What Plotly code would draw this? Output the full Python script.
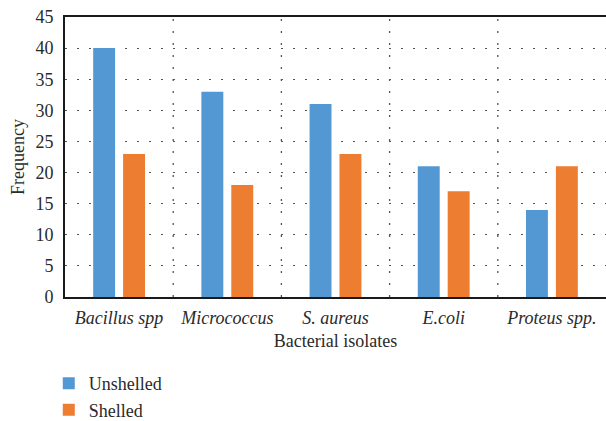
import plotly.graph_objects as go

categories = ["Bacillus spp", "Micrococcus", "S. aureus", "E.coli", "Proteus spp."]
unshelled = [40, 33, 31, 21, 14]
shelled = [23, 18, 23, 17, 21]
y_ticks = [0, 5, 10, 15, 20, 25, 30, 35, 40, 45]

FONT = "Liberation Serif"
DOTS = "2px,10px"

fig = go.Figure()
fig.add_trace(go.Bar(name="Unshelled", x=categories, y=unshelled,
                     marker=dict(color="#5498D3", line=dict(width=0))))
fig.add_trace(go.Bar(name="Shelled", x=categories, y=shelled,
                     marker=dict(color="#ED7D31", line=dict(width=0))))

# dotted separators between the category groups
for i in range(len(categories) - 1):
    fig.add_shape(type="line", xref="x", yref="paper",
                  x0=i + 0.5, x1=i + 0.5, y0=0, y1=1, layer="below",
                  line=dict(color="#555555", width=1.3, dash=DOTS))

fig.update_layout(
    width=606, height=421,
    margin=dict(l=65, r=0, t=17, b=124, autoexpand=False),
    paper_bgcolor="white", plot_bgcolor="white",
    barmode="group", bargap=0.447, bargroupgap=0.267,
    font=dict(family=FONT, size=18, color="#2a2a2a"),
    xaxis=dict(
        type="category", automargin=False, tickangle=0,
        tickvals=categories,
        ticktext=[f"<i>{c}</i>" for c in categories],
        showline=True, linecolor="#1a1a1a", linewidth=2, mirror=True,
        showgrid=False, ticks="", ticklen=0, ticklabelstandoff=3,
        title=dict(text="Bacterial isolates", standoff=8,
                   font=dict(family=FONT, size=18)),
        tickfont=dict(family=FONT, size=18),
        range=[-0.5, len(categories) - 0.5],
    ),
    yaxis=dict(
        range=[0, 45], tickvals=y_ticks, automargin=False,
        showline=True, linecolor="#1a1a1a", linewidth=2,
        showgrid=True, gridcolor="#555555", gridwidth=1.3, griddash=DOTS,
        zeroline=False, ticks="", ticklabelstandoff=6,
        title=dict(text="Frequency", standoff=6,
                   font=dict(family=FONT, size=18)),
        tickfont=dict(family=FONT, size=18),
    ),
    legend=dict(
        orientation="v", x=-0.03, xanchor="left", y=-0.243, yanchor="top",
        font=dict(family=FONT, size=18), bgcolor="rgba(0,0,0,0)",
        tracegroupgap=0, itemsizing="constant",
    ),
    showlegend=True,
)

fig.write_html("out.html")
